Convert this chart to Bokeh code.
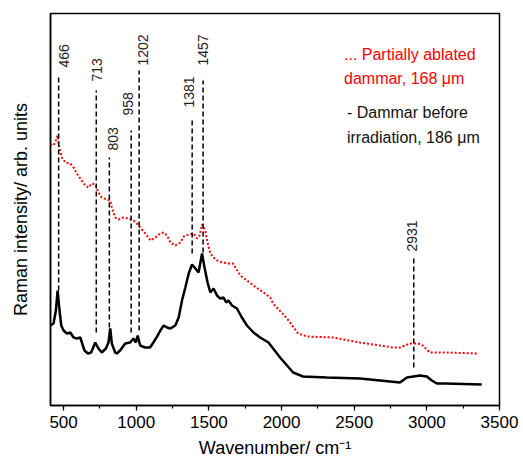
import math
from bokeh.plotting import figure
from bokeh.models import Range1d, SingleIntervalTicker, FixedTicker
from bokeh.core.properties import value
from bokeh.embed import file_html
from bokeh.resources import INLINE

FONT = "Liberation Sans"

# Dammar before irradiation (black, solid)
black_x = [409, 431, 447, 459, 470, 484, 500, 523, 546, 569, 591, 615, 626, 644, 667, 690,
           718, 740, 763, 791, 809, 821, 832, 855, 866, 889, 924, 958, 981, 997, 1010, 1027,
           1061, 1095, 1118, 1148, 1166, 1189, 1212, 1235, 1269, 1292, 1315, 1338, 1361, 1384,
           1407, 1429, 1453, 1470, 1491, 1510, 1532, 1556, 1578, 1601, 1619, 1635, 1659, 1693,
           1727, 1762, 1807, 1853, 1910, 1990, 2080, 2148, 2313, 2540, 2815, 2863, 2952, 3000,
           3034, 3069, 3124, 3378]
black_y = [80, 82, 95, 115, 98, 80, 75, 72, 73, 68, 67, 68, 63, 55, 52, 53,
           63, 57, 53, 57, 63, 77, 62, 53, 52, 55, 62, 63, 67, 63, 70, 60,
           58, 58, 63, 70, 75, 80, 78, 77, 80, 88, 105, 118, 132, 141,
           137, 133, 152, 138, 123, 113, 117, 110, 107, 108, 103, 105, 100, 97,
           88, 80, 73, 68, 63, 48, 33, 29, 28, 27, 23, 28, 30, 29,
           25, 22, 22, 21]

# Partially ablated dammar (red, dotted)
red_x = [409, 431, 447, 459, 470, 488, 512, 546, 569, 591, 615, 649, 672, 694, 718, 740,
         763, 797, 821, 832, 855, 878, 912, 946, 981, 1003, 1027, 1063, 1098, 1132, 1166,
         1189, 1212, 1235, 1269, 1304, 1326, 1361, 1395, 1418, 1436, 1453, 1475, 1491, 1510,
         1544, 1590, 1635, 1665, 1688, 1716, 1762, 1807, 1876, 1922, 1942, 2038, 2114, 2176,
         2354, 2540, 2766, 2815, 2883, 2938, 2972, 3020, 3137, 3350]
red_y = [261, 260, 265, 270, 258, 248, 243, 242, 238, 232, 227, 220, 218, 222, 221, 213,
         208, 206, 205, 198, 188, 186, 188, 187, 185, 182, 178, 172, 165, 168, 172,
         173, 170, 163, 160, 163, 169, 171, 172, 167, 170, 181, 175, 163, 152,
         146, 143, 142, 142, 137, 130, 125, 120, 113, 108, 102, 87, 72, 69,
         68, 63, 58, 58, 62, 62, 60, 53, 53, 52]

# Peak markers
peak_x = [466, 725, 815, 965, 1020, 1385, 1460, 2910]
peak_top = [331, 315, 248, 275, 335, 288, 325, 147]
peak_bottom = [115, 73, 78, 73, 75, 152, 153, 38]
peak_labels = ["466", "713", "803", "958", "1202", "1381", "1457", "2931"]
label_x = [500, 733, 837, 946, 1049, 1365, 1462, 2897]
label_y = [338, 324, 255, 290, 340, 298, 340, 154]

legend_red = ["... Partially ablated", "dammar, 168 \u03bcm"]
legend_red_y = [351, 327]
legend_black = ["- Dammar before", "irradiation, 186 \u03bcm"]
legend_black_y = [293, 268]
legend_x = [2430, 2450]

p = figure(width=523, height=461, output_backend="svg", toolbar_location=None,
           x_range=Range1d(410, 3500), y_range=Range1d(0, 392),
           min_border_left=50, min_border_right=24, min_border_top=13, min_border_bottom=56)
p.background_fill_color = "white"
p.border_fill_color = "white"
p.grid.visible = False
p.outline_line_color = "black"
p.outline_line_width = 1.5

xa = p.xaxis[0]
xa.ticker = SingleIntervalTicker(interval=500, num_minor_ticks=2)
xa.axis_label = "Wavenumber/ cm\u207b\u00b9"
xa.axis_label_text_font = FONT
xa.axis_label_text_font_size = "18px"
xa.axis_label_text_font_style = "normal"
xa.axis_label_text_color = "black"
xa.axis_label_standoff = 7
xa.major_label_text_font = FONT
xa.major_label_text_font_size = "17px"
xa.major_label_text_color = "black"
xa.major_label_standoff = 5
xa.major_tick_in = 0
xa.major_tick_out = 5
xa.minor_tick_in = 0
xa.minor_tick_out = 3
xa.axis_line_width = 1.5
xa.major_tick_line_width = 1.2
xa.minor_tick_line_width = 1.2

ya = p.yaxis[0]
ya.ticker = FixedTicker(ticks=[])
ya.major_tick_line_color = None
ya.minor_tick_line_color = None
ya.axis_label = "Raman intensity/ arb. units"
ya.axis_label_text_font = FONT
ya.axis_label_text_font_size = "18px"
ya.axis_label_text_font_style = "normal"
ya.axis_label_text_color = "black"
ya.axis_label_standoff = 20
ya.axis_line_width = 1.5

p.line(red_x, red_y, line_color="#ff0000", line_width=2, line_dash="2 2")
p.line(black_x, black_y, line_color="black", line_width=2.5)

p.segment(x0=peak_x, y0=peak_bottom, x1=peak_x, y1=peak_top,
          line_color="black", line_width=1.5, line_dash="5 3")
p.text(x=label_x, y=label_y, text=peak_labels, angle=math.pi / 2,
       text_align="left", text_baseline="middle",
       text_font=value(FONT), text_font_size="14px", text_color="#222222")

p.text(x=[legend_x[0]] * 2, y=legend_red_y, text=legend_red,
       text_align="left", text_baseline="middle",
       text_font=value(FONT), text_font_size="16px", text_color="#ff0000")
p.text(x=[legend_x[1]] * 2, y=legend_black_y, text=legend_black,
       text_align="left", text_baseline="middle",
       text_font=value(FONT), text_font_size="16px", text_color="#111111")

open("out.html", "w").write(file_html(p, INLINE))
